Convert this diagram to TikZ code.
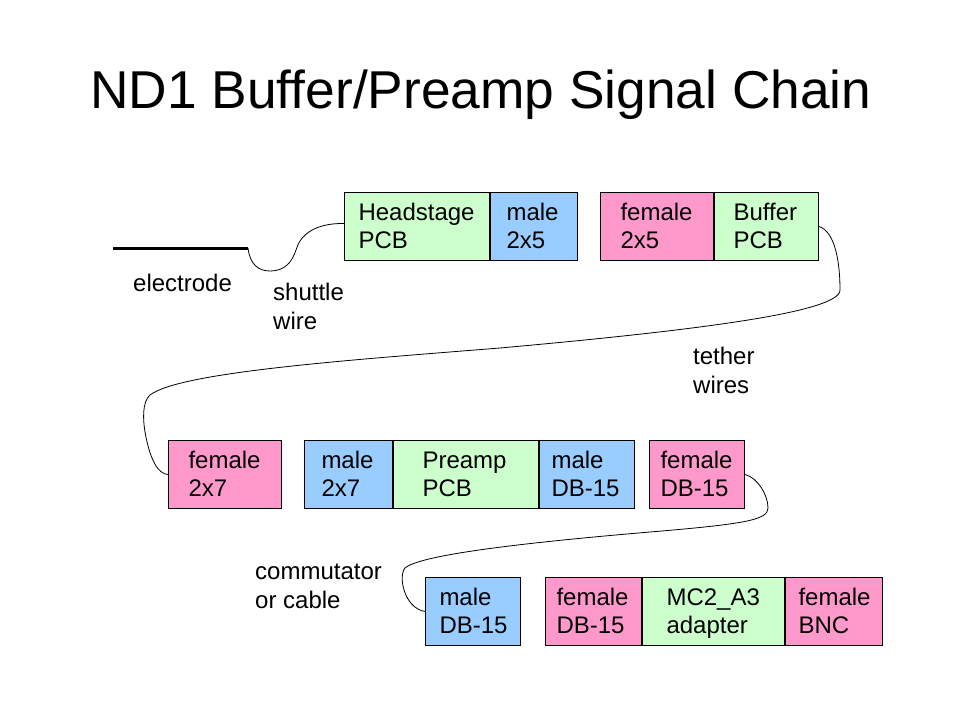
\documentclass[tikz,border=0pt]{standalone}
\usepackage{fontspec}
\setmainfont{Liberation Sans}
\usepackage{xcolor}
\usetikzlibrary{positioning}

\definecolor{pcbgreen}{HTML}{CCFFCC}
\definecolor{maleblue}{HTML}{99CCFF}
\definecolor{femalepink}{HTML}{FF99CC}

\begin{document}
\begin{tikzpicture}[
  x=1pt, y=-1pt,
  font=\fontsize{24}{28.5}\selectfont,
  node distance=0pt,
  cell/.style={
    draw, line width=1pt, align=left, inner xsep=0pt, inner ysep=0pt,
    minimum height=68pt,
    execute at begin node={\hyphenpenalty=10000\exhyphenpenalty=10000\rule{0pt}{25pt}},
    execute at end node={\strut}
  },
  pcb/.style={cell, fill=pcbgreen},
  male/.style={cell, fill=maleblue},
  female/.style={cell, fill=femalepink},
  wire/.style={line width=0.8pt},
  lbl/.style={anchor=base west, inner sep=0pt, align=left}
]
\useasboundingbox (0,0) rectangle (960,720);

% ---- title ----
\node[anchor=base, inner sep=0pt, font=\fontsize{53.3}{64}\selectfont] (title) at (481,108)
  {ND1 Buffer/Preamp Signal Chain};

% ---- row 1: headstage and buffer ----
\node[pcb, anchor=north west, minimum width=145pt, text width=117pt] (hs) at (344,192) {Headstage\\PCB};
\node[male, right=of hs, minimum width=87pt, text width=55pt] (m25) {male\\2x5};
\node[female, anchor=north west, minimum width=113pt, text width=73pt] (f25) at (600,192) {female\\2x5};
\node[pcb, right=of f25, minimum width=104pt, text width=66pt] (buf) {Buffer\\PCB};

% ---- row 2: preamp ----
\node[female, anchor=north west, minimum width=113pt, text width=73pt] (f27) at (168,440) {female\\2x7};
\node[male, anchor=north west, minimum width=88pt, text width=54pt] (m27) at (304,440) {male\\2x7};
\node[pcb, right=of m27, minimum width=145pt, text width=87pt] (pre) {Preamp\\PCB};
\node[male, right=of pre, minimum width=95pt, text width=71pt] (mdb) {male\\DB-15};
\node[female, anchor=north west, minimum width=95pt, text width=73pt] (fdb) at (649,440) {female\\DB-15};

% ---- row 3: adapter ----
\node[male, anchor=north west, minimum width=95pt, text width=67pt] (mdbb) at (425,577) {male\\DB-15};
\node[female, anchor=north west, minimum width=96pt, text width=74pt] (fdbb) at (545,577) {female\\DB-15};
\node[pcb, right=of fdbb, minimum width=142pt, text width=94pt] (mc2) {MC2\_A3\\adapter};
\node[female, right=of mc2, minimum width=97pt, text width=71pt] (bnc) {female\\BNC};

% ---- electrode and wires ----
\coordinate (elecL) at (113,248);
\coordinate (elecR) at (248,248);
\draw[line width=3pt] (elecL) -- (elecR);

\draw[wire] (elecR) .. controls (250,265) and (259,271) .. (270,271)
  .. controls (285,271) and (292,262) .. (296,250)
  .. controls (300,235) and (315,223) .. ([yshift=3pt]hs.west);

\draw[wire] (buf.east) .. controls (836,232) and (840,265) .. (840,290)
  .. controls (840,312) and (700,330) .. (500,348)
  .. controls (350,360) and (180,372) .. (150,395)
  .. controls (142,402) and (143,420) .. (145,432)
  .. controls (150,460) and (158,474) .. (f27.west);

\draw[wire] (fdb.east) .. controls (758,478) and (768,495) .. (768,508)
  .. controls (768,520) and (745,524) .. (650,532)
  .. controls (520,543) and (420,555) .. (405,568)
  .. controls (398,576) and (404,608) .. (mdbb.west);

% ---- labels ----
\node[lbl] (elecl) at (133,291) {electrode};
\node[lbl] (shuttlel) at (273,329) {shuttle\\wire};
\node[lbl] (tetherl) at (693,393) {tether\\wires};
\node[lbl] (comml) at (255,608) {commutator\\or cable};

\end{tikzpicture}
\end{document}
